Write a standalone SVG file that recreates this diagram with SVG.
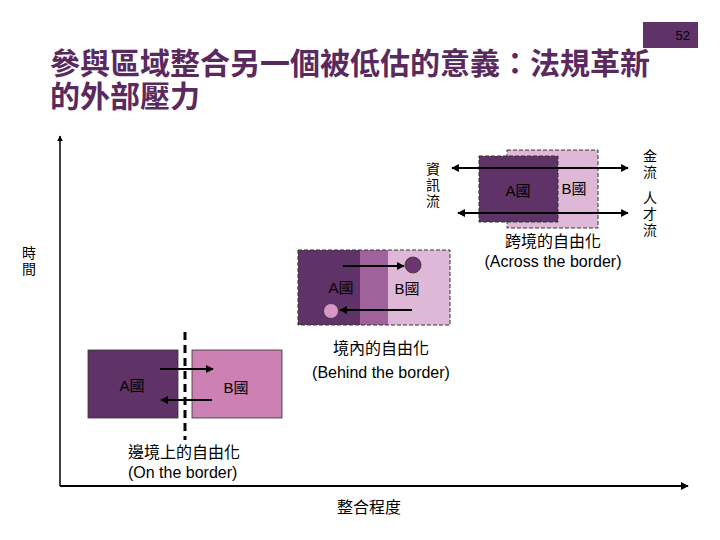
<svg xmlns="http://www.w3.org/2000/svg" width="720" height="540" viewBox="0 0 720 540">
<defs>
<marker id="ah" viewBox="0 0 10 10" refX="9" refY="5" markerWidth="4" markerHeight="4" orient="auto-start-reverse"><path d="M0,0 L10,5 L0,10 z" fill="#000"/></marker>
<style>
.t{font-family:"Liberation Sans","Noto Sans CJK TC",sans-serif;fill:#000}
.dk{fill:#5f3367}
.ln{stroke:#000;stroke-width:2;fill:none}
.dash{stroke:#333;stroke-width:1;stroke-dasharray:4,2}
</style>
</defs>
<rect width="720" height="540" fill="#fff"/>
<g id="slide-number"><rect x="643" y="22" width="55" height="26" class="dk"/><text x="690" y="40" class="t" font-size="13" text-anchor="end" fill="#000">52</text></g>
<g id="title" font-weight="bold"><text x="50" y="74" class="t" font-size="30" style="fill:#5a2a5e">參與區域整合另一個被低估的意義：法規革新</text><text x="50" y="107" class="t" font-size="30" style="fill:#5a2a5e">的外部壓力</text></g>
<g id="connectors">
<line x1="60" y1="486" x2="60" y2="136" stroke="#000" stroke-width="1.5" marker-end="url(#ah)"/>
<line x1="60" y1="486" x2="688" y2="486" stroke="#000" stroke-width="2" marker-end="url(#ah)"/>
</g>
<g id="across">
<rect x="507" y="150" width="91" height="78" fill="#dfb8d8" class="dash"/>
<rect x="479" y="156" width="79" height="66" class="dk dash"/>
<line x1="452" y1="168" x2="628" y2="168" class="ln" marker-start="url(#ah)" marker-end="url(#ah)"/>
<line x1="458" y1="213" x2="628" y2="213" class="ln" marker-start="url(#ah)" marker-end="url(#ah)"/>
<text x="518" y="196" class="t" font-size="15" text-anchor="middle">A國</text>
<text x="574" y="194" class="t" font-size="15" text-anchor="middle">B國</text>
<text class="t" font-size="14" text-anchor="middle"><tspan x="433" y="174">資</tspan><tspan x="433" y="190">訊</tspan><tspan x="433" y="206">流</tspan></text>
<text class="t" font-size="14" text-anchor="middle"><tspan x="650" y="161">金</tspan><tspan x="650" y="177">流</tspan></text>
<text class="t" font-size="14" text-anchor="middle"><tspan x="650" y="203">人</tspan><tspan x="650" y="219">才</tspan><tspan x="650" y="235">流</tspan></text>
<text x="553" y="247" class="t" font-size="16" text-anchor="middle">跨境的自由化</text>
<text x="553" y="267" class="t" font-size="16" text-anchor="middle">(Across the border)</text>
</g>
<g id="behind">
<rect x="298" y="250" width="152" height="75" fill="#dfb8d8"/>
<rect x="298" y="250" width="90" height="75" fill="#a0629b"/>
<rect x="298" y="250" width="62" height="75" class="dk"/>
<rect x="298" y="250" width="152" height="75" fill="none" class="dash"/>
<circle cx="413" cy="265" r="8" fill="#6a3670" stroke="#333" stroke-width="0.8"/>
<circle cx="331" cy="311" r="7.5" fill="#d896c6" stroke="#333" stroke-width="0.8"/>
<line x1="343" y1="266" x2="404" y2="266" class="ln" marker-end="url(#ah)"/>
<line x1="412" y1="310" x2="340" y2="310" class="ln" marker-end="url(#ah)"/>
<text x="341" y="293" class="t" font-size="15" text-anchor="middle">A國</text>
<text x="407" y="294" class="t" font-size="15" text-anchor="middle">B國</text>
<text x="381" y="354" class="t" font-size="16" text-anchor="middle">境內的自由化</text>
<text x="381" y="378" class="t" font-size="16" text-anchor="middle">(Behind the border)</text>
</g>
<g id="on">
<rect x="88" y="350" width="90" height="68" class="dk" stroke="#333" stroke-width="0.8"/>
<rect x="192" y="350" width="90" height="68" fill="#cc80b3" stroke="#333" stroke-width="0.8"/>
<line x1="185" y1="332" x2="185" y2="440" stroke="#000" stroke-width="3" stroke-dasharray="8,5"/>
<line x1="160" y1="369" x2="213" y2="369" class="ln" marker-end="url(#ah)"/>
<line x1="212" y1="400" x2="161" y2="400" class="ln" marker-end="url(#ah)"/>
<text x="132" y="391" class="t" font-size="15" text-anchor="middle">A國</text>
<text x="236" y="393" class="t" font-size="15" text-anchor="middle">B國</text>
<text x="128" y="458" class="t" font-size="16">邊境上的自由化</text>
<text x="128" y="478" class="t" font-size="16">(On the border)</text>
</g>
<g id="labels">
<text x="369" y="513" class="t" font-size="16" text-anchor="middle">整合程度</text>
<text class="t" font-size="14" text-anchor="middle"><tspan x="29" y="258">時</tspan><tspan x="29" y="274">間</tspan></text>
</g>
</svg>
